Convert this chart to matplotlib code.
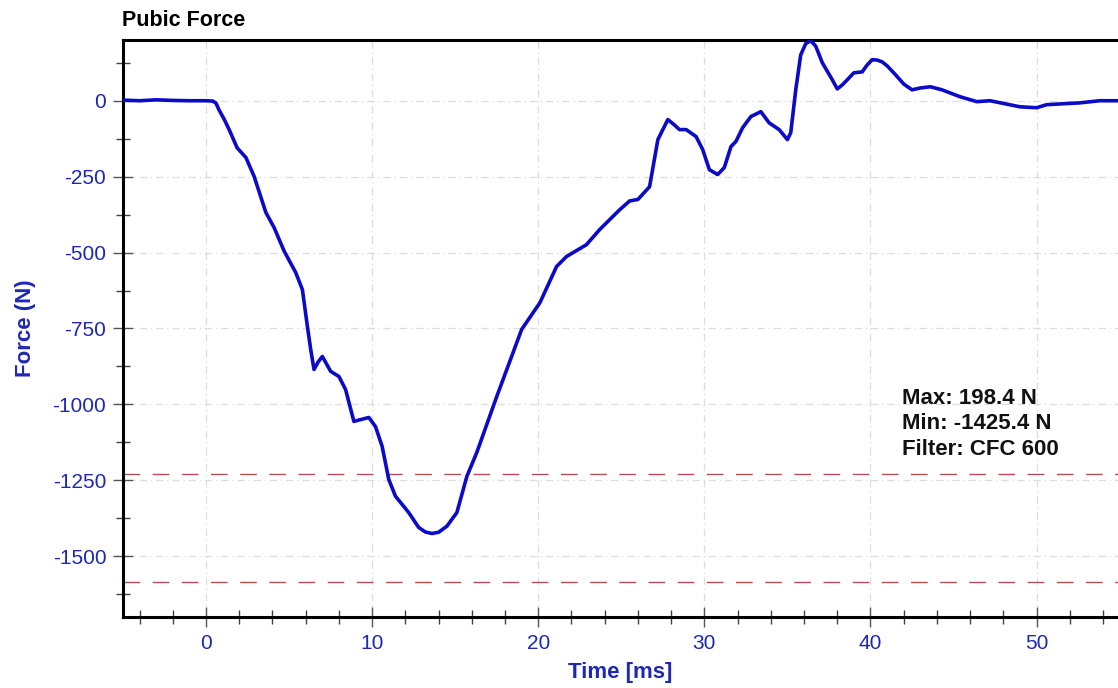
import matplotlib
matplotlib.use("Agg")
import matplotlib.pyplot as plt
from matplotlib.ticker import MultipleLocator

plt.rcParams['font.family'] = ['Liberation Sans', 'DejaVu Sans']
plt.rcParams['axes.unicode_minus'] = False

title = "Pubic Force"
x_label = "Time [ms]"
y_label = "Force (N)"
stats_text = "Max: 198.4 N\nMin: -1425.4 N\nFilter: CFC 600"

time_ms = [-5.0, -4.0, -3.0, -2.0, -1.0, 0.0, 0.4, 0.6, 0.78, 1.1, 1.39, 1.87, 2.4, 2.9, 3.6, 4.1,
           4.7, 5.4, 5.8, 6.1, 6.3, 6.5, 6.75, 7.0, 7.5, 8.0, 8.4, 8.9, 9.3, 9.8, 10.2, 10.6,
           11.0, 11.4, 12.2, 12.8, 13.2, 13.6, 14.0, 14.5, 15.1, 15.7, 16.3, 17.5, 19.0, 20.1,
           21.1, 21.7, 22.9, 23.7, 24.9, 25.5, 26.0, 26.7, 27.2, 27.8, 28.2, 28.5, 28.9,
           29.5, 29.9, 30.3, 30.8, 31.2, 31.6, 31.9, 32.3, 32.8, 33.4, 33.9, 34.5,
           35.0, 35.2, 35.5, 35.8, 36.1, 36.4, 36.7, 37.1, 37.7, 38.0, 38.3, 38.6, 39.0, 39.5,
           39.8, 40.1, 40.4, 40.7, 41.0, 41.5, 42.0, 42.5, 43.0, 43.6, 44.3, 45.4, 46.4, 47.2,
           49.0, 50.0, 50.6, 52.6, 53.8, 54.9]
force_n = [2, 0, 3, 1, 0, 0, -1, -8, -30, -62, -95, -155, -187, -250, -368, -418,
           -495, -566, -622, -743, -819, -885, -860, -842, -891, -908, -951, -1056, -1050, -1043, -1073, -1138,
           -1247, -1302, -1356, -1405, -1420, -1425, -1421, -1401, -1356, -1237, -1158, -974, -753, -665,
           -546, -513, -474, -424, -359, -330, -325, -283, -128, -62, -80, -95, -95,
           -118, -161, -227, -243, -220, -151, -134, -89, -52, -36, -73, -95,
           -128, -105, 36, 151, 188, 198, 180, 125, 69, 39, 52, 69, 92, 95,
           118, 135, 134, 128, 115, 86, 55, 36, 42, 46, 36, 13, -3, 0,
           -20, -23, -13, -7, 0, 0]

limit_lines = [-1230, -1585]

blue = '#0a0ac8'
label_blue = '#1e28b4'

fig = plt.figure(figsize=(11.18, 6.88), dpi=100)
ax = fig.add_axes([123/1118, 1-617/688, 1-123/1118, (617-40)/688])

ax.plot(time_ms, force_n, color=blue, lw=2.6, solid_joinstyle='round', zorder=3)
for yv in limit_lines:
    ln = ax.axhline(yv, color='#b05050', lw=1.0, zorder=2)
    ln.set_dashes((12, 9))

ax.set_xlim(-5, 54.9)
ax.set_ylim(-1700, 200)
ax.xaxis.set_major_locator(MultipleLocator(10))
ax.xaxis.set_minor_locator(MultipleLocator(2))
ax.yaxis.set_major_locator(MultipleLocator(250))
ax.yaxis.set_minor_locator(MultipleLocator(125))

ax.grid(True, which='major', color='#dddddd', lw=0.9, linestyle=(0, (6, 3, 1, 3)), zorder=1)

ax.tick_params(axis='both', which='major', direction='inout', length=14, width=1.0,
               color='#555555', labelcolor=label_blue, labelsize=15, pad=5)
ax.tick_params(axis='both', which='minor', direction='inout', length=10, width=1.0,
               color='#444444')

for s in ['left', 'bottom', 'top']:
    ax.spines[s].set_linewidth(2.2)
    ax.spines[s].set_color('black')
ax.spines['right'].set_visible(False)

ax.set_xlabel(x_label, color=label_blue, fontsize=16, fontweight='bold', labelpad=7)
ax.set_ylabel(y_label, color=label_blue, fontsize=16, fontweight='bold', labelpad=12)

fig.text(122/1118, 1-20/688, title, fontsize=15.5, fontweight='bold', color='black',
         ha='left', va='center')
fig.text(902/1118, 1-388/688, stats_text, fontsize=16, fontweight='bold', color='#111111',
         ha='left', va='top', linespacing=1.28)

fig.savefig("out.png", dpi=100)
